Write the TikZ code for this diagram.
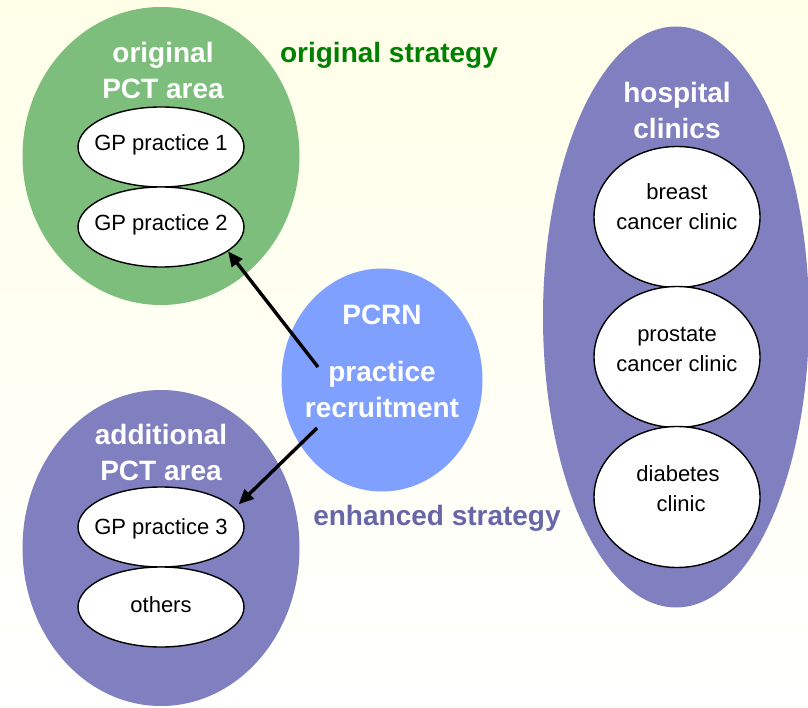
\documentclass[tikz,border=0pt]{standalone}
\usepackage{fontspec}
\setmainfont{Liberation Sans}
\usetikzlibrary{shapes.geometric,arrows.meta}
\definecolor{areagreen}{RGB}{125,190,125}
\definecolor{areapurple}{RGB}{128,128,192}
\definecolor{pcrnblue}{RGB}{128,160,255}
\definecolor{origgreen}{RGB}{0,128,0}
\definecolor{enhpurple}{RGB}{102,102,168}
\definecolor{paper}{RGB}{255,255,232}
\begin{document}
\begin{tikzpicture}[x=1pt,y=-1pt,
  area/.style={ellipse, draw=none, inner sep=0pt},
  unit/.style={ellipse, draw=black, line width=1.4pt, fill=white, inner sep=0pt,
               minimum width=166pt, minimum height=80pt},
  clinic/.style={unit, minimum height=141pt},
  heading/.style={text=white, font=\fontsize{28}{36}\selectfont\bfseries,
                  align=center, inner sep=0pt, anchor=base},
  strategy/.style={font=\fontsize{28}{36}\selectfont\bfseries, inner sep=0pt, anchor=base},
  unitlabel/.style={font=\fontsize{22}{30}\selectfont, align=center, inner sep=0pt, anchor=base},
  link/.style={line width=3.4pt, -{Triangle[length=15pt,width=13pt]}}]

% page background
\shade[top color=paper, bottom color=white] (0,0) rectangle (808,708);
\useasboundingbox (0,0) rectangle (808,708);

% areas
\node[area, fill=areagreen, minimum width=277pt, minimum height=298pt] (origarea) at (161,156) {};
\node[area, fill=areapurple, minimum width=277pt, minimum height=316pt] (addarea) at (161,548) {};
\node[area, fill=areapurple, minimum width=266pt, minimum height=581pt] (hospital) at (676,317) {};
\node[area, fill=pcrnblue, minimum width=201pt, minimum height=223pt] (pcrn) at (382,380) {};

% area headings (base anchor = baseline of the last line)
\node[heading] (origtitle) at (163,99) {original\\PCT area};
\node[heading] (addtitle) at (161,480) {additional\\PCT area};
\node[heading] (hosptitle) at (677,139) {hospital\\clinics};
\node[heading] (pcrntitle) at (382,325) {PCRN};
\node[heading] (pcrntask) at (382,417) {practice\\recruitment};

% strategy captions
\node[strategy, text=origgreen] (origstrat) at (389,63) {original strategy};
\node[strategy, text=enhpurple] (enhstrat) at (437,525) {enhanced strategy};

% GP practices
\node[unit] (gp1) at (161,147) {};
\node[unit] (gp2) at (161,227) {};
\node[unit] (gp3) at (161,527) {};
\node[unit] (others) at (161,607) {};
\node[unitlabel] (gp1text) at (161,151) {GP practice 1};
\node[unitlabel] (gp2text) at (161,231) {GP practice 2};
\node[unitlabel] (gp3text) at (161,534) {GP practice 3};
\node[unitlabel] (otherstext) at (161,612) {others};

% hospital clinics
\node[clinic] (breast) at (677,217) {};
\node[clinic] (prostate) at (677,357) {};
\node[clinic] (diabetes) at (677,497) {};
\node[unitlabel] (breasttext) at (677,230) {breast\\cancer clinic};
\node[unitlabel] (prostatetext) at (677,371) {prostate\\cancer clinic};
\node[unitlabel] (diabetestext) at (678,511) {diabetes\\\ clinic};

% recruitment arrows
\coordinate (fromup) at (318,367);
\coordinate (fromdown) at (317,428);
\draw[link] (fromup) -- (gp2.-20);
\draw[link] (fromdown) -- ([xshift=8pt]gp3.18);
\end{tikzpicture}
\end{document}
